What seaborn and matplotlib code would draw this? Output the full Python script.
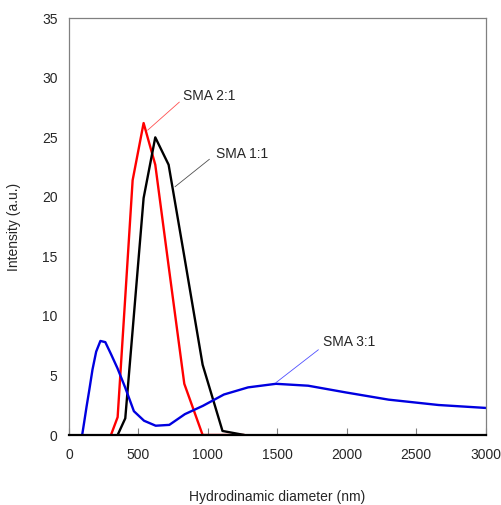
import matplotlib
matplotlib.use("Agg")
import matplotlib.pyplot as plt
import seaborn as sns
import pandas as pd

# Size-distribution data (hydrodynamic diameter in nm, intensity in a.u.)
size_21 = [302, 350, 405, 458, 537, 621, 717, 830, 962, 1105, 1262]
int_21 = [0, 1.5, 11.6, 21.4, 26.2, 22.7, 14.2, 4.3, 0, 0, 0]

size_11 = [350, 405, 458, 537, 621, 717, 830, 962, 1105, 1262]
int_11 = [0, 1.4, 8.8, 19.9, 25.0, 22.7, 15.0, 5.9, 0.34, 0]

size_31 = [94.6, 109.4, 126.5, 146.2, 169, 195.4, 225.9, 261.2, 302, 349, 404,
           467, 540, 624, 722, 834, 964, 1115, 1289, 1490, 1722, 1991, 2301,
           2660, 3075]
int_31 = [0, 1.1, 2.4, 3.8, 5.5, 7.0, 7.9, 7.8, 6.8, 5.6, 4.0,
          2.0, 1.2, 0.78, 0.85, 1.75, 2.45, 3.4, 4.0, 4.3, 4.14, 3.58, 2.97,
          2.52, 2.22]

x_ticks = [0, 500, 1000, 1500, 2000, 2500, 3000]
y_ticks = [0, 5, 10, 15, 20, 25, 30, 35]

sns.set_style("white")
plt.rcParams["font.family"] = ["Liberation Sans", "DejaVu Sans"]
FS = 10

fig = plt.figure(figsize=(5.02, 5.05), dpi=100)
ax = fig.add_axes([0.1375, 0.1386, 0.8300, 0.8252])

series = [
    ("SMA 2:1", size_21, int_21, "#FF0000"),
    ("SMA 1:1", size_11, int_11, "#000000"),
    ("SMA 3:1", size_31, int_31, "#0000E0"),
]
for name, xs, ys, col in series:
    df = pd.DataFrame({"size": xs, "intensity": ys})
    sns.lineplot(data=df, x="size", y="intensity", ax=ax, color=col,
                 lw=1.7, sort=False, estimator=None, legend=False)

ax.set_xlim(0, 3000)
ax.set_ylim(0, 35)
ax.set_xticks(x_ticks)
ax.set_yticks(y_ticks)
ax.set_xticklabels([str(v) for v in x_ticks], fontsize=FS)
ax.set_yticklabels([str(v) for v in y_ticks], fontsize=FS)
ax.tick_params(axis="x", direction="in", length=5, width=0.8,
               color="#808080", pad=9.3, bottom=True)
ax.tick_params(axis="y", length=0, pad=8.3)

for side in ("left", "top", "right"):
    ax.spines[side].set_color("#808080")
    ax.spines[side].set_linewidth(0.9)
ax.spines["bottom"].set_color("#000000")
ax.spines["bottom"].set_linewidth(1.6)

ax.set_xlabel("Hydrodinamic diameter (nm)", fontsize=FS, labelpad=20.5)
ax.set_ylabel("Intensity (a.u.)", fontsize=FS, labelpad=15)

# Series labels with leader lines
ax.annotate("SMA 2:1", xy=(566, 25.6), xytext=(818, 28.5), fontsize=FS,
            ha="left", va="center",
            arrowprops=dict(arrowstyle="-", color="#FF5050", lw=0.6,
                            shrinkA=0, shrinkB=0, relpos=(0, 0.25)))
ax.annotate("SMA 1:1", xy=(763, 20.85), xytext=(1058, 23.6), fontsize=FS,
            ha="left", va="center",
            arrowprops=dict(arrowstyle="-", color="#505050", lw=0.6,
                            shrinkA=3, shrinkB=0, relpos=(0, 0.5)))
ax.annotate("SMA 3:1", xy=(1490, 4.4), xytext=(1827, 7.8), fontsize=FS,
            ha="left", va="center",
            arrowprops=dict(arrowstyle="-", color="#5050FF", lw=0.6,
                            shrinkA=1, shrinkB=0, relpos=(0, 0.2)))

fig.savefig("out.png", dpi=100)
